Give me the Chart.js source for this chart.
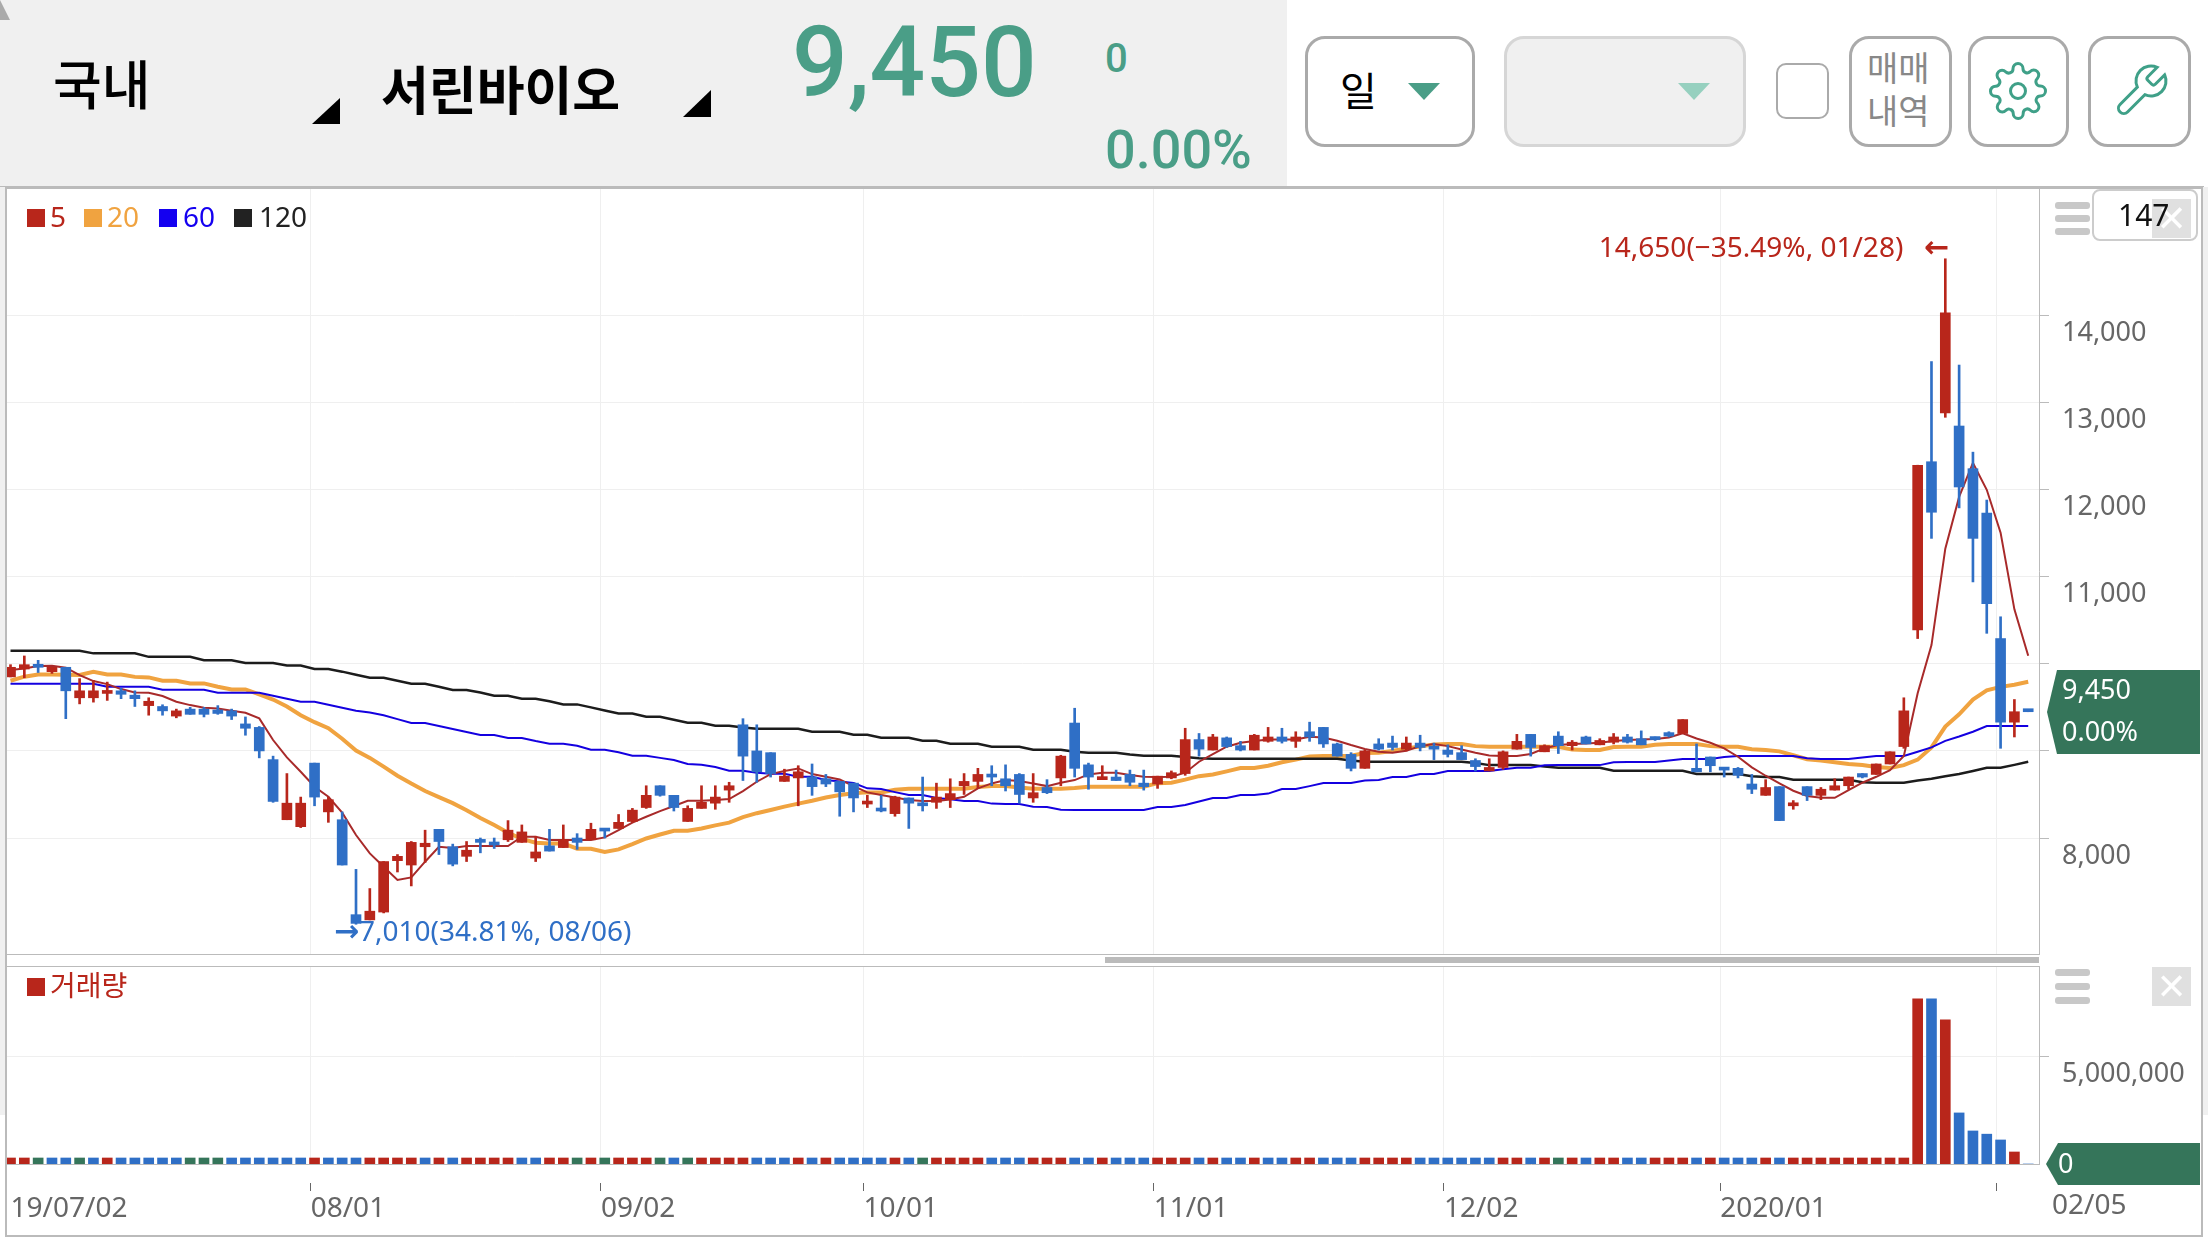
<!DOCTYPE html>
<html lang="ko">
<head>
<meta charset="utf-8">
<title>서린바이오</title>
<script src="https://cdn.jsdelivr.net/npm/chart.js@4/dist/chart.umd.min.js"></script>
<style>
    html, body { margin: 0; padding: 0; background: #fff; }
    #page { position: relative; width: 2208px; height: 1242px; overflow: hidden; background: #fff; font-family: "Noto Sans", sans-serif; }
    #page canvas { position: absolute; left: 0; }
    .box { position: absolute; box-sizing: border-box; }
    .t { position: absolute; white-space: nowrap; line-height: 1; }
    .kr { font-family: "Noto Sans CJK KR", sans-serif; }
    .green { color: #4a9e87; font-family: Roboto, sans-serif; font-weight: 500; }
    .btn { position: absolute; box-sizing: border-box; top: 36px; height: 111px; border: 3px solid #aaa; border-radius: 20px; background: #fff; }
    .tri { position: absolute; width: 0; height: 0; border-left: 16px solid transparent; border-right: 16px solid transparent; }
    .bar { position: absolute; left: 2055px; width: 35px; height: 7px; border-radius: 3px; background: #c8c8c8; }
    .tile { position: absolute; left: 2152px; width: 39px; height: 39px; background: #e0e0e0; color: #fff; font: bold 36px/39px "DejaVu Sans", sans-serif; text-align: center; }
    .sq { position: absolute; width: 18px; height: 18px; }
</style>
</head>
<body>
<div id="page">
    <!-- header -->
    <div class="box" style="left:0;top:0;width:1287px;height:186px;background:#f0f0f0"></div>
    <div class="box" style="left:0;top:0;width:10px;height:20px;background:#aaa;clip-path:polygon(0 0,100% 100%,0 100%)"></div>
    <div class="t kr" style="left:53px;top:56px;font-size:53px;font-weight:500;color:#000">국내</div>
    <div class="box" style="left:312px;top:98px;width:28px;height:26px;background:#000;clip-path:polygon(100% 0,100% 100%,0 100%)"></div>
    <div class="t kr" style="left:381px;top:62px;font-size:52px;font-weight:700;color:#000">서린바이오</div>
    <div class="box" style="left:683px;top:90px;width:28px;height:27px;background:#000;clip-path:polygon(100% 0,100% 100%,0 100%)"></div>
    <div class="t green" style="left:792px;top:14px;font-size:98px">9,450</div>
    <div class="t green" style="left:1105px;top:39px;font-size:40px">0</div>
    <div class="t green" style="left:1105px;top:123px;font-size:54px">0.00%</div>

    <div class="btn" style="left:1305px;width:170px"></div>
    <div class="t kr" style="left:1340px;top:69px;font-size:40px;color:#000">일</div>
    <div class="tri" style="left:1408px;top:83px;border-top:17px solid #4a9e87"></div>
    <div class="btn" style="left:1504px;width:242px;background:#f0f0f0;border-color:#d6d6d6"></div>
    <div class="tri" style="left:1678px;top:83px;border-top:17px solid #96d0bf"></div>
    <div class="btn" style="left:1776px;top:63px;width:53px;height:56px;border-width:2px;border-radius:10px"></div>
    <div class="btn" style="left:1849px;width:103px"></div>
    <div class="t kr" style="left:1867px;top:50px;font-size:34px;color:#888">매매</div>
    <div class="t kr" style="left:1867px;top:93px;font-size:34px;color:#888">내역</div>
    <div class="btn" style="left:1968px;width:101px"></div>
    <svg style="position:absolute;left:1988px;top:61px" width="60" height="60" viewBox="0 0 24 24" fill="none" stroke="#3fa088" stroke-width="1.2"><circle cx="12" cy="12" r="3"/><path d="M19.4 15a1.65 1.65 0 0 0 .33 1.82l.06.06a2 2 0 0 1 0 2.83 2 2 0 0 1-2.83 0l-.06-.06a1.65 1.65 0 0 0-1.82-.33 1.65 1.65 0 0 0-1 1.51V21a2 2 0 0 1-2 2 2 2 0 0 1-2-2v-.09A1.65 1.65 0 0 0 9 19.4a1.65 1.65 0 0 0-1.82.33l-.06.06a2 2 0 0 1-2.83 0 2 2 0 0 1 0-2.83l.06-.06a1.65 1.65 0 0 0 .33-1.82 1.65 1.65 0 0 0-1.51-1H3a2 2 0 0 1-2-2 2 2 0 0 1 2-2h.09A1.65 1.65 0 0 0 4.6 9a1.65 1.65 0 0 0-.33-1.82l-.06-.06a2 2 0 0 1 0-2.83 2 2 0 0 1 2.83 0l.06.06a1.65 1.65 0 0 0 1.82.33H9a1.65 1.65 0 0 0 1-1.51V3a2 2 0 0 1 2-2 2 2 0 0 1 2 2v.09a1.65 1.65 0 0 0 1 1.51 1.65 1.65 0 0 0 1.82-.33l.06-.06a2 2 0 0 1 2.83 0 2 2 0 0 1 0 2.83l-.06.06a1.65 1.65 0 0 0-.33 1.82V9a1.65 1.65 0 0 0 1.51 1H21a2 2 0 0 1 2 2 2 2 0 0 1-2 2h-.09a1.65 1.65 0 0 0-1.51 1z"/></svg>
    <div class="btn" style="left:2088px;width:103px"></div>
    <svg style="position:absolute;left:2111px;top:61px" width="60" height="60" viewBox="0 0 24 24" fill="none" stroke="#3fa088" stroke-width="1.2"><path d="M14.7 6.3a1 1 0 0 0 0 1.4l1.6 1.6a1 1 0 0 0 1.4 0l3.77-3.77a6 6 0 0 1-7.94 7.94l-6.91 6.91a2.12 2.12 0 0 1-3-3l6.91-6.91a6 6 0 0 1 7.94-7.94l-3.76 3.76z"/></svg>

    <canvas id="priceChart" width="2208" height="768" style="top:187px"></canvas>
    <canvas id="volumeChart" width="2208" height="276" style="top:966px"></canvas>

    <!-- frame -->
    <div class="box" style="left:0;top:186px;width:2204px;height:3px;background:#bbb"></div>
    <div class="box" style="left:0;top:187px;width:6px;height:928px;background:#f0f0f0"></div>
    <div class="box" style="left:5px;top:187px;width:2px;height:1049px;background:#bbb"></div>
    <div class="box" style="left:2201px;top:187px;width:2px;height:1049px;background:#bbb"></div>
    <div class="box" style="left:2203px;top:187px;width:5px;height:928px;background:#f0f0f0"></div>
    <div class="box" style="left:5px;top:1235px;width:2198px;height:2px;background:#bbb"></div>
    <div class="box" style="left:6px;top:954px;width:2033px;height:1px;background:#bbb"></div>
    <div class="box" style="left:6px;top:966px;width:2033px;height:1px;background:#bbb"></div>
    <div class="box" style="left:1105px;top:957px;width:934px;height:6px;background:#bbb"></div>

    <!-- legend -->
    <div class="sq" style="left:27px;top:209px;background:#b8261b"></div>
    <div class="t" style="left:50px;top:202px;font-size:28px;color:#b8261b">5</div>
    <div class="sq" style="left:84px;top:209px;background:#f0a340"></div>
    <div class="t" style="left:107px;top:202px;font-size:28px;color:#f0a340">20</div>
    <div class="sq" style="left:159px;top:209px;background:#1400f0"></div>
    <div class="t" style="left:183px;top:202px;font-size:28px;color:#1400f0">60</div>
    <div class="sq" style="left:234px;top:209px;background:#222"></div>
    <div class="t" style="left:259px;top:202px;font-size:28px;color:#222">120</div>
    <div class="sq" style="left:27px;top:978px;background:#b8261b"></div>
    <div class="t kr" style="left:50px;top:970px;font-size:28px;color:#b8261b">거래량</div>

    <!-- side tools -->
    <div class="bar" style="top:202px"></div>
    <div class="bar" style="top:215px"></div>
    <div class="bar" style="top:228px"></div>
    <div class="box" style="left:2092px;top:189px;width:106px;height:52px;border:2px solid #ccc;border-radius:8px;background:#fff"></div>
    <div class="tile" style="top:199px">✕</div>
    <div class="t" style="left:2118px;top:200px;font-size:30px;color:#111">147</div>
    <div class="bar" style="top:969px"></div>
    <div class="bar" style="top:983px"></div>
    <div class="bar" style="top:997px"></div>
    <div class="tile" style="top:967px">✕</div>

    <!-- current price tags -->
    <div class="box" style="left:2047px;top:670px;width:153px;height:84px;background:#35755a;clip-path:polygon(10px 0,100% 0,100% 100%,10px 100%,0 50%)"></div>
    <div class="t" style="left:2062px;top:675px;font-size:27px;color:#fff">9,450</div>
    <div class="t" style="left:2062px;top:717px;font-size:27px;color:#fff">0.00%</div>
    <div class="box" style="left:2046px;top:1143px;width:154px;height:42px;background:#35755a;clip-path:polygon(12px 0,100% 0,100% 100%,12px 100%,0 50%)"></div>
    <div class="t" style="left:2058px;top:1149px;font-size:27px;color:#fff">0</div>
</div>

<script>
/* ── DATA ────────────────────────────────────────────────── */
const dayOpen = [
    9850, 9940, 9990, 9910, 9960, 9610, 9610, 9660, 9690, 9640, 9520, 9510, 9400, 9480, 9480, 9470, 9460, 9310, 9270, 8900,
    8210, 8130, 8860, 8300, 8210, 7120, 7060, 7150, 7740, 7690, 7900, 8100, 7900, 7790, 7980, 7950, 7980, 7950, 7770, 7910,
    7890, 8000, 7980, 8100, 8110, 8190, 8350, 8600, 8490, 8190, 8340, 8400, 8550, 9300, 9000, 8980, 8650, 8690, 8700, 8680,
    8650, 8630, 8390, 8340, 8280, 8460, 8400, 8410, 8440, 8600, 8650, 8730, 8680, 8730, 8460, 8580, 8690, 9320, 8840, 8670,
    8700, 8730, 8630, 8620, 8690, 8740, 9130, 9010, 9150, 9060, 9010, 9110, 9160, 9110, 9220, 9270, 9080, 8960, 8800, 9080,
    9090, 9020, 9090, 9040, 9010, 8980, 8890, 8770, 8810, 9020, 9190, 8990, 9170, 9060, 9160, 9070, 9100, 9160, 9140, 9160,
    9210, 9200, 8800, 8930, 8800, 8800, 8620, 8490, 8590, 8370, 8590, 8490, 8550, 8600, 8740, 8730, 8850, 9050, 10390, 12320,
    12880, 12730, 12240, 11730, 10290, 9330, 9450
];
const dayClose = [
    9960, 9990, 9960, 9960, 9690, 9690, 9690, 9690, 9650, 9600, 9570, 9460, 9460, 9420, 9420, 9430, 9400, 9260, 9000, 8420,
    8400, 8400, 8470, 8440, 7690, 7020, 7160, 7730, 7790, 7950, 7940, 7960, 7700, 7860, 7950, 7920, 8090, 8070, 7840, 7850,
    7980, 7950, 8100, 8080, 8180, 8320, 8490, 8490, 8350, 8340, 8410, 8470, 8600, 8940, 8760, 8740, 8710, 8760, 8590, 8620,
    8530, 8460, 8420, 8310, 8470, 8400, 8370, 8470, 8510, 8650, 8730, 8700, 8600, 8500, 8520, 8520, 8940, 8800, 8700, 8690,
    8660, 8640, 8590, 8710, 8750, 9130, 9020, 9160, 9050, 9010, 9180, 9160, 9110, 9160, 9160, 9080, 8940, 8800, 9000, 9020,
    9040, 9090, 9040, 9020, 8960, 8900, 8820, 8810, 8990, 9110, 9040, 9060, 9060, 9100, 9080, 9120, 9160, 9100, 9070, 9130,
    9170, 9360, 8760, 8830, 8780, 8720, 8560, 8580, 8200, 8390, 8490, 8560, 8600, 8700, 8700, 8850, 8990, 9460, 12280, 11740,
    14030, 12030, 11440, 10690, 9330, 9450, 9450
];
const dayHigh = [
    9990, 10090, 10040, 9960, 9960, 9830, 9810, 9790, 9720, 9690, 9610, 9530, 9480, 9500, 9500, 9520, 9480, 9390, 9280, 8940,
    8740, 8470, 8860, 8470, 8300, 7640, 7420, 7730, 7810, 7960, 8090, 8100, 7930, 7960, 8000, 8000, 8200, 8150, 8020, 8100,
    8150, 8050, 8170, 8100, 8270, 8340, 8600, 8600, 8490, 8370, 8600, 8600, 8640, 9370, 9300, 8980, 8790, 8830, 8850, 8730,
    8650, 8630, 8490, 8490, 8480, 8460, 8700, 8630, 8680, 8740, 8800, 8830, 8840, 8740, 8740, 8670, 8950, 9490, 8860, 8830,
    8780, 8780, 8780, 8710, 8770, 9260, 9200, 9190, 9160, 9110, 9190, 9270, 9260, 9220, 9330, 9270, 9090, 8980, 9010, 9140,
    9170, 9160, 9180, 9090, 9070, 9060, 8910, 8910, 9000, 9190, 9190, 9070, 9220, 9120, 9170, 9140, 9200, 9190, 9230, 9160,
    9220, 9360, 9080, 8930, 8800, 8810, 8730, 8670, 8590, 8430, 8590, 8580, 8680, 8700, 8740, 8850, 8990, 9610, 12280, 13470,
    14650, 13430, 12430, 11880, 10540, 9590, 9450
];
const dayLow = [
    9850, 9840, 9900, 9890, 9370, 9540, 9560, 9580, 9600, 9510, 9410, 9410, 9380, 9420, 9390, 9420, 9360, 9180, 8920, 8410,
    8210, 8120, 8370, 8180, 7690, 7010, 7060, 7140, 7610, 7450, 7720, 7810, 7680, 7730, 7830, 7880, 7960, 7950, 7730, 7850,
    7890, 7870, 7980, 8000, 8110, 8180, 8340, 8480, 8310, 8190, 8340, 8330, 8410, 8660, 8640, 8700, 8650, 8370, 8490, 8590,
    8250, 8300, 8350, 8300, 8250, 8110, 8310, 8340, 8350, 8500, 8570, 8600, 8540, 8400, 8410, 8510, 8600, 8700, 8560, 8670,
    8660, 8600, 8550, 8570, 8680, 8720, 8940, 9010, 9040, 9000, 9010, 9100, 9090, 9040, 9110, 9040, 8940, 8770, 8800, 9010,
    9010, 9000, 9000, 8900, 8930, 8900, 8770, 8770, 8790, 9020, 8940, 8990, 8970, 9010, 9080, 9070, 9080, 9090, 9070, 9120,
    9160, 9200, 8760, 8760, 8700, 8690, 8510, 8490, 8200, 8330, 8430, 8440, 8550, 8560, 8690, 8730, 8850, 9030, 10290, 11440,
    12830, 11790, 10940, 10350, 9030, 9160, 9450
];

const ma5 = [
    9928, 9947, 9974, 9978, 9955, 9871, 9802, 9767, 9710, 9672, 9668, 9630, 9565, 9526, 9496, 9488, 9461, 9438, 9373, 9125,
    8926, 8761, 8589, 8474, 8291, 8034, 7824, 7671, 7518, 7548, 7728, 7900, 7885, 7908, 7908, 7908, 7908, 8015, 8015, 7977,
    7977, 7977, 7977, 8007, 8091, 8176, 8244, 8309, 8367, 8428, 8428, 8436, 8447, 8539, 8646, 8734, 8769, 8799, 8734, 8703,
    8673, 8596, 8524, 8493, 8466, 8436, 8424, 8424, 8443, 8474, 8570, 8627, 8665, 8654, 8627, 8596, 8635, 8665, 8730, 8750,
    8750, 8723, 8703, 8700, 8703, 8750, 8876, 8964, 9048, 9094, 9113, 9132, 9132, 9132, 9163, 9155, 9117, 9067, 9021, 8990,
    8979, 9002, 9055, 9078, 9055, 9017, 8979, 8948, 8941, 8941, 8964, 9029, 9067, 9078, 9086, 9094, 9113, 9124, 9132, 9136,
    9155, 9201, 9143, 9094, 9029, 8933, 8811, 8715, 8627, 8543, 8482, 8462, 8462, 8550, 8635, 8703, 8780, 8941, 9662, 10215,
    11322, 11916, 12306, 11998, 11506, 10625, 10092
];
const ma20 = [
    9806, 9852, 9878, 9878, 9875, 9871, 9909, 9878, 9878, 9850, 9844, 9806, 9806, 9775, 9775, 9737, 9706, 9706, 9650, 9590,
    9510, 9410, 9330, 9260, 9140, 9005, 8920, 8820, 8715, 8625, 8540, 8470, 8400, 8320, 8230, 8150, 8060, 7990, 7946, 7938,
    7938, 7877, 7877, 7840, 7870, 7930, 7995, 8040, 8084, 8084, 8110, 8145, 8176, 8240, 8285, 8321, 8360, 8395, 8428, 8465,
    8493, 8515, 8524, 8524, 8555, 8566, 8566, 8566, 8566, 8566, 8585, 8596, 8596, 8580, 8566, 8566, 8566, 8575, 8589, 8589,
    8589, 8589, 8589, 8630, 8635, 8670, 8710, 8730, 8765, 8803, 8803, 8830, 8870, 8900, 8935, 8941, 8941, 8945, 8975, 8979,
    9000, 9029, 9050, 9075, 9078, 9078, 9055, 9048, 9048, 9048, 9048, 9048, 9048, 9015, 9010, 9010, 9045, 9048, 9048, 9070,
    9078, 9078, 9078, 9055, 9048, 9048, 9020, 9010, 8995, 8950, 8905, 8890, 8870, 8850, 8837, 8815, 8803, 8837, 8900, 9040,
    9280, 9420, 9590, 9695, 9735, 9760, 9794
];
const ma60 = [
    9771, 9771, 9771, 9771, 9771, 9771, 9771, 9737, 9737, 9737, 9737, 9702, 9702, 9702, 9702, 9668, 9668, 9668, 9668, 9634,
    9599, 9565, 9565, 9530, 9496, 9461, 9440, 9410, 9365, 9320, 9320, 9285, 9251, 9216, 9182, 9182, 9148, 9148, 9113, 9082,
    9082, 9060, 9013, 9013, 8985, 8945, 8945, 8920, 8895, 8850, 8841, 8815, 8772, 8772, 8750, 8738, 8738, 8703, 8703, 8665,
    8648, 8631, 8570, 8562, 8527, 8493, 8493, 8459, 8445, 8424, 8424, 8395, 8390, 8390, 8360, 8355, 8325, 8321, 8321, 8321,
    8321, 8321, 8321, 8355, 8355, 8380, 8420, 8459, 8459, 8493, 8493, 8510, 8562, 8562, 8596, 8631, 8631, 8631, 8660, 8665,
    8700, 8700, 8735, 8735, 8770, 8770, 8770, 8770, 8790, 8807, 8807, 8835, 8837, 8837, 8837, 8837, 8870, 8872, 8872, 8872,
    8890, 8906, 8906, 8906, 8930, 8941, 8941, 8941, 8941, 8941, 8915, 8906, 8906, 8906, 8925, 8941, 8941, 8941, 8990, 9040,
    9115, 9165, 9220, 9285, 9285, 9285, 9285
];
const ma120 = [
    10150, 10150, 10150, 10150, 10150, 10150, 10120, 10120, 10120, 10120, 10080, 10080, 10080, 10080, 10040, 10040, 10040, 10010, 10010, 10010,
    9980, 9980, 9940, 9940, 9910, 9875, 9840, 9840, 9806, 9770, 9770, 9737, 9700, 9700, 9670, 9634, 9634, 9600, 9600, 9570,
    9534, 9534, 9500, 9465, 9430, 9430, 9392, 9392, 9358, 9323, 9323, 9289, 9289, 9270, 9254, 9254, 9254, 9254, 9220, 9220,
    9220, 9186, 9186, 9151, 9151, 9151, 9117, 9117, 9082, 9082, 9082, 9048, 9048, 9048, 9013, 9013, 9013, 8990, 8979, 8979,
    8979, 8960, 8945, 8945, 8945, 8930, 8915, 8910, 8910, 8910, 8910, 8910, 8910, 8910, 8910, 8910, 8910, 8890, 8876, 8876,
    8876, 8876, 8876, 8876, 8876, 8876, 8860, 8837, 8837, 8837, 8837, 8820, 8807, 8807, 8807, 8807, 8772, 8772, 8772, 8772,
    8772, 8772, 8734, 8734, 8734, 8734, 8710, 8700, 8700, 8670, 8670, 8670, 8670, 8670, 8640, 8635, 8635, 8635, 8660, 8680,
    8710, 8735, 8770, 8806, 8806, 8840, 8875
];

const volume = [
    280000, 280000, 280000, 280000, 280000, 280000, 280000, 280000, 280000, 280000, 280000, 280000, 280000, 280000, 280000, 280000, 280000, 280000, 280000, 280000,
    280000, 280000, 280000, 280000, 280000, 280000, 280000, 280000, 280000, 280000, 280000, 280000, 280000, 280000, 280000, 280000, 280000, 280000, 280000, 280000,
    280000, 280000, 280000, 280000, 280000, 280000, 280000, 280000, 280000, 280000, 280000, 280000, 280000, 280000, 280000, 280000, 280000, 280000, 280000, 280000,
    280000, 280000, 280000, 280000, 280000, 280000, 280000, 280000, 280000, 280000, 280000, 280000, 280000, 280000, 280000, 280000, 280000, 280000, 280000, 280000,
    280000, 280000, 280000, 280000, 280000, 280000, 280000, 280000, 280000, 280000, 280000, 280000, 280000, 280000, 280000, 280000, 280000, 280000, 280000, 280000,
    280000, 280000, 280000, 280000, 280000, 280000, 280000, 280000, 280000, 280000, 280000, 280000, 280000, 280000, 280000, 280000, 280000, 280000, 280000, 280000,
    280000, 280000, 280000, 280000, 280000, 280000, 280000, 280000, 280000, 280000, 280000, 280000, 280000, 280000, 280000, 280000, 280000, 280000, 7700000, 7700000,
    6720000, 2380000, 1540000, 1390000, 1120000, 560000, 0
];
const volumeColor = 'RRGBBGBRBBBBBGGGBBBBBBRBBBRRRRBRBRRRRBBRRGRGRRRGBGRRRRBBBRBRBBBBRBGRRRRBBBRRRBBRBBBRRRBRBBRBBRRBBBRRRRBBBBBBRRBRGRBRRBBRRRBRBBBRBRRRRRRRRRRBRBBBBRB';

const priceTicks = [8000, 9000, 10000, 11000, 12000, 13000, 14000];
const priceTicksUnlabelled = [9000, 10000]; // the price tag sits over these two
const volumeTicks = [5000000];
const dateIdx = [0, 22, 43, 62, 83, 104, 124, 144];
const dateLabels = ['19/07/02', '08/01', '09/02', '10/01', '11/01', '12/02', '2020/01', ''];
const lastDateLabel = '02/05';

const maxNote = { idx: 140, value: 14650, text: '14,650(−35.49%, 01/28)', arrow: '←' };
const minNote = { idx: 25, value: 7010, text: '7,010(34.81%, 08/06)', arrow: '→' };

/* ── STYLE ───────────────────────────────────────────────── */
const RED = '#b8261b', BLUE = '#2f6fc6', GREEN = '#35755a';
const GRID = '#efefef', AXIS = '#bbb', LABEL = '#666';
const COLOR_BY_KEY = { R: RED, B: BLUE, G: GREEN };
const X_MIN = -0.326, X_MAX = 146.78;
const SIDE_WIDTH = 169;
const GRID_SHIFT = -0.28;
const tickFont = { family: '"Noto Sans", sans-serif', size: 27 };

Chart.defaults.font.family = tickFont.family;

function noPadding(s) {
    s.paddingTop = 0; s.paddingBottom = 0; s.paddingLeft = 0; s.paddingRight = 0;
}
function setYTicks(values) {
    return scale => { scale.ticks = values.map(v => ({ value: v })); };
}
function setXTicks(scale) {
    scale.ticks = dateIdx.map(i => ({ value: i === 0 ? 0 : i + GRID_SHIFT }));
}
function gridColorFor(color) {
    return ctx => (ctx.tick && ctx.tick.value === 0 ? 'transparent' : color);
}
function yAxis(min, max, values, hidden) {
    return {
        position: 'right', min, max,
        afterBuildTicks: setYTicks(values),
        afterFit: s => { s.width = SIDE_WIDTH; noPadding(s); },
        border: { color: AXIS },
        grid: { color: GRID, tickColor: AXIS, tickLength: 10 },
        ticks: {
            autoSkip: false, padding: 13, labelOffset: 18,
            color: LABEL, font: tickFont,
            callback: v => (hidden.includes(v) ? '' : Number(v).toLocaleString('en-US'))
        }
    };
}

/* ── PRICE PANEL ─────────────────────────────────────────── */
const points = arr => arr.map((y, x) => ({ x, y }));
const candleColors = dayClose.map((c, i) => (c > dayOpen[i] ? RED : BLUE));

function maLine(label, data, color, width, order) {
    return { type: 'line', label, data: points(data), borderColor: color, borderWidth: width, pointRadius: 0, tension: 0, order };
}

const notePlugin = {
    id: 'notes',
    afterDraw(chart) {
        const { ctx, scales: { x, y } } = chart;
        ctx.save();
        ctx.textBaseline = 'middle';
        // highest price, text runs left of the arrow
        const mx = x.getPixelForValue(maxNote.idx), my = y.getPixelForValue(maxNote.value) - 10;
        ctx.fillStyle = RED;
        ctx.textAlign = 'right';
        ctx.font = '28px "Noto Sans"';
        ctx.fillText(maxNote.text, mx - 42, my);
        ctx.font = 'bold 30px "DejaVu Sans"';
        ctx.fillText(maxNote.arrow, mx + 4, my);
        // lowest price
        const lx = x.getPixelForValue(minNote.idx), ly = y.getPixelForValue(minNote.value) + 9;
        ctx.fillStyle = BLUE;
        ctx.textAlign = 'left';
        ctx.font = 'bold 30px "DejaVu Sans"';
        ctx.fillText(minNote.arrow, lx - 22, ly);
        ctx.font = '28px "Noto Sans"';
        ctx.fillText(minNote.text, lx + 3, ly);
        ctx.restore();
    }
};

new Chart(document.getElementById('priceChart').getContext('2d'), {
    type: 'bar',
    data: {
        datasets: [
            maLine('5', ma5, '#a82a2a', 2, 3),
            maLine('20', ma20, '#f0a340', 4, 6),
            maLine('60', ma60, '#1400e0', 2, 4),
            maLine('120', ma120, '#1c1c1c', 2.5, 5),
            {
                label: 'wick', grouped: false, barThickness: 2, order: 2,
                data: dayLow.map((l, x) => ({ x, y: [l, dayHigh[x]] })),
                backgroundColor: candleColors
            },
            {
                label: 'body', grouped: false, barThickness: 10, minBarLength: 3, order: 1,
                data: dayOpen.map((o, x) => ({ x, y: [o, dayClose[x]] })),
                backgroundColor: candleColors
            }
        ]
    },
    options: {
        responsive: false, animation: false, devicePixelRatio: 1,
        layout: { padding: { left: 6, top: 0, right: 0, bottom: 0 } },
        plugins: { legend: { display: false }, tooltip: { enabled: false } },
        scales: {
            x: {
                type: 'linear', min: X_MIN, max: X_MAX, offset: false,
                afterBuildTicks: setXTicks,
                afterFit: s => { s.height = 0; noPadding(s); },
                border: { display: false },
                grid: { offset: false, color: gridColorFor(GRID), drawTicks: false },
                ticks: { display: false }
            },
            y: yAxis(6657, 15474, priceTicks, priceTicksUnlabelled)
        }
    },
    plugins: [notePlugin]
});

/* ── VOLUME PANEL ────────────────────────────────────────── */
const lastDatePlugin = {
    id: 'lastDate',
    afterDraw(chart) {
        const { ctx, scales: { x } } = chart;
        ctx.save();
        ctx.fillStyle = LABEL;
        ctx.font = '28px "Noto Sans"';
        ctx.textAlign = 'left';
        ctx.textBaseline = 'top';
        ctx.fillText(lastDateLabel, x.right + 13, x.top + 27 + 1);
        ctx.restore();
    }
};

new Chart(document.getElementById('volumeChart').getContext('2d'), {
    type: 'bar',
    data: {
        datasets: [{
            label: '거래량', grouped: false, barThickness: 10,
            data: points(volume),
            backgroundColor: volume.map((_, i) => COLOR_BY_KEY[volumeColor[i]])
        }]
    },
    options: {
        responsive: false, animation: false, devicePixelRatio: 1,
        layout: { padding: { left: 6, top: 0, right: 0, bottom: 0 } },
        plugins: { legend: { display: false }, tooltip: { enabled: false } },
        scales: {
            x: {
                type: 'linear', min: X_MIN, max: X_MAX, offset: false,
                afterBuildTicks: setXTicks,
                afterFit: s => { s.height = 78; noPadding(s); },
                border: { color: AXIS },
                grid: {
                    offset: false, color: gridColorFor(GRID),
                    tickColor: gridColorFor('#666'), tickLength: 27, tickBorderDash: [0, 18, 9, 40]
                },
                ticks: {
                    autoSkip: false, maxRotation: 0, minRotation: 0, align: 'start', padding: 1,
                    color: LABEL, font: { family: tickFont.family, size: 28 },
                    callback: (v, i) => dateLabels[i]
                }
            },
            y: yAxis(0, 9226000, volumeTicks, [])
        }
    },
    plugins: [lastDatePlugin]
});
</script>
</body>
</html>
